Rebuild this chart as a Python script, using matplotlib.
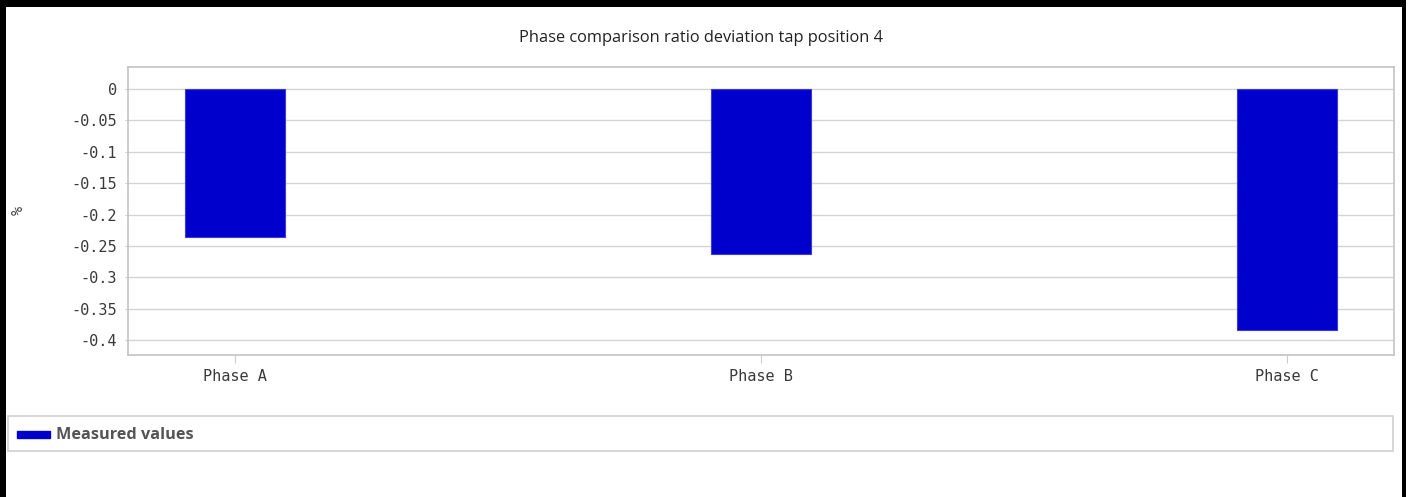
import numpy as np
import matplotlib.pyplot as plt
from matplotlib.patches import Rectangle

phases = ["Phase A", "Phase B", "Phase C"]
measured = [-0.236, -0.263, -0.384]
yticks = [0, -0.05, -0.1, -0.15, -0.2, -0.25, -0.3, -0.35, -0.4]
ytick_labels = ["0", "-0.05", "-0.1", "-0.15", "-0.2", "-0.25", "-0.3", "-0.35", "-0.4"]

W, H = 1415, 497
fig = plt.figure(figsize=(W / 100, H / 100), dpi=100)
fig.patch.set_facecolor("white")

# plot area in pixels: x 128..1394, y 67..355 (from top)
ax = fig.add_axes([128 / W, 1 - 355 / H, (1394 - 128) / W, (355 - 67) / H])
x = np.arange(len(phases))
ax.bar(x, measured, width=0.19, color="#0000cc", edgecolor="#3a3ad8", linewidth=0.8, zorder=3)
ax.set_xlim(-0.204, 2.204)
ax.set_ylim(-0.4236, 0.035)
ax.set_yticks(yticks)
ax.set_yticklabels(ytick_labels, family="DejaVu Sans Mono", fontsize=11, color="#3a3a3a")
ax.set_xticks(x)
ax.set_xticklabels(phases, family="DejaVu Sans Mono", fontsize=11, color="#3a3a3a")
ax.tick_params(axis="x", length=6, color="#cccccc", pad=4)
ax.tick_params(axis="y", length=2, color="#cccccc", pad=6)
ax.grid(axis="y", color="#d4d4d4", linewidth=1, zorder=0)
for s in ax.spines.values():
    s.set_color("#c4c4c4")
    s.set_linewidth(1.2)

fig.text(18 / W, 1 - 210 / H, "%", rotation=90, ha="center", va="center",
         family="DejaVu Sans Mono", fontsize=11, color="#444444")
fig.text(701 / W, 1 - 38 / H, "Phase comparison ratio deviation tap position 4",
         ha="center", va="center", family="Open Sans", fontsize=11.8, color="#222222")

# legend box
fig.patches.append(Rectangle((8 / W, 1 - 451 / H), (1393 - 8) / W, 35 / H,
                             transform=fig.transFigure, facecolor="white",
                             edgecolor="#cfcfcf", linewidth=1.2))
fig.patches.append(Rectangle((17 / W, 1 - 438 / H), 33 / W, 7 / H,
                             transform=fig.transFigure, facecolor="#0000cc",
                             edgecolor="#0000cc"))
fig.text(56 / W, 1 - 435 / H, "Measured values", ha="left", va="center",
         family="Open Sans", fontweight="bold", fontsize=11.7, color="#555555")

# black frame around the screenshot
fig.patches.append(Rectangle((0, 1 - 7 / H), 1406 / W, 7 / H, transform=fig.transFigure,
                             facecolor="black", edgecolor="none"))
fig.patches.append(Rectangle((0, 0), 6 / W, 1, transform=fig.transFigure,
                             facecolor="black", edgecolor="none"))
fig.patches.append(Rectangle((1402 / W, 0), 4 / W, 1, transform=fig.transFigure,
                             facecolor="black", edgecolor="none"))

fig.savefig("out.png", dpi=100)
